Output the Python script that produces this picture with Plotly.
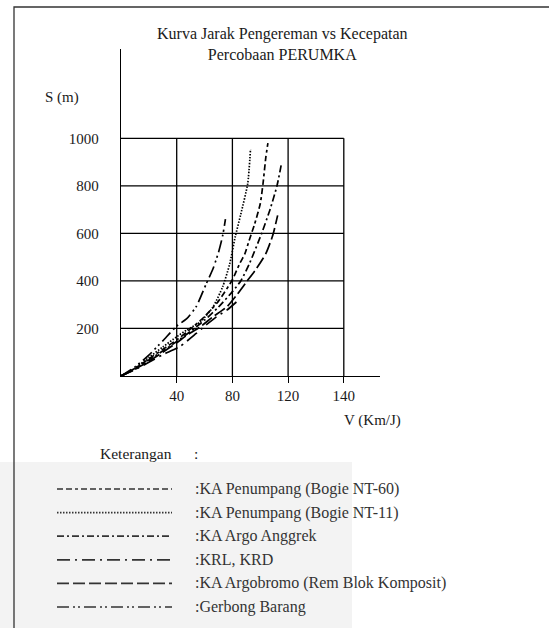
import plotly.graph_objects as go

# ---------------- data ----------------
V_NT60 = [0, 10, 20, 30, 40, 50, 60, 70, 80, 85, 89, 92, 96, 100, 102, 104, 105.5]
S_NT60 = [0, 32, 72, 112, 152, 198, 250, 315, 405, 470, 515, 570, 640, 725, 810, 920, 980]

V_NT11 = [0, 10, 20, 30, 40, 47, 57, 66, 73, 78, 82, 86, 91, 93]
S_NT11 = [0, 33, 78, 122, 165, 193, 228, 290, 375, 470, 585, 680, 810, 955]

V_ARGO_ANGGREK = [0, 10, 20, 30, 40, 50, 60, 70, 80, 86, 92, 101, 107, 112, 115]
S_ARGO_ANGGREK = [0, 30, 68, 105, 145, 188, 235, 290, 355, 400, 470, 600, 700, 800, 886]

V_KRL = [0, 10, 20, 30, 42, 54, 61, 68.5, 76, 83]
S_KRL = [0, 26, 58, 90, 123, 179, 214, 249, 277, 312]

V_ARGOBROMO = [0, 10, 20, 30, 40, 47, 57, 66, 76, 83, 90, 97, 104, 109, 112.5]
S_ARGOBROMO = [0, 28, 62, 100, 140, 170, 207, 249, 291, 340, 395, 450, 515, 592, 676]

V_BARANG = [0, 10, 20, 30, 40, 47, 54, 61, 66, 70, 73, 75]
S_BARANG = [0, 38, 88, 148, 210, 240, 292, 385, 450, 520, 590, 660]

X_TICK_VALS = [40, 80, 120, 160]
X_TICK_TEXT = ["40", "80", "120", "140"]
Y_TICK_VALS = [200, 400, 600, 800, 1000]
Y_TICK_TEXT = ["200", "400", "600", "800", "1000"]

SERIES_NAMES = [
    ":KA Penumpang (Bogie NT-60)",
    ":KA Penumpang (Bogie NT-11)",
    ":KA Argo Anggrek",
    ":KRL, KRD",
    ":KA Argobromo (Rem Blok Komposit)",
    ":Gerbong Barang",
]
SERIES_X = [V_NT60, V_NT11, V_ARGO_ANGGREK, V_KRL, V_ARGOBROMO, V_BARANG]
SERIES_Y = [S_NT60, S_NT11, S_ARGO_ANGGREK, S_KRL, S_ARGOBROMO, S_BARANG]

TITLE = "Kurva Jarak Pengereman vs Kecepatan<br>Percobaan PERUMKA"
Y_LABEL = "S (m)"
X_LABEL = "V (Km/J)"
LEGEND_TITLE = "Keterangan"

# ---------------- styles ----------------
DASHES = [
    "6px,3px,6px,3px,3px,3px",
    "1.5px,1.5px",
    "7px,3px,2px,3px",
    "13px,5px,2px,5px",
    "12px,4px",
    "12px,4px,2px,3px,2px,4px",
]
FONT = "Liberation Serif, Times New Roman, DejaVu Serif, serif"
TXT = "#1a1a1a"

W, H = 549, 628
L, R, T, B = 121, 380, 49, 376  # plot area in pixels


def px(xp):
    return (xp - L) / (R - L)


def py(yp):
    return (B - yp) / (B - T)


fig = go.Figure()

for xs, ys, d in zip(SERIES_X, SERIES_Y, DASHES):
    fig.add_trace(go.Scatter(
        x=xs, y=ys, mode="lines",
        line=dict(color="black", width=1.7, dash=d, shape="spline", smoothing=0.6),
        showlegend=False, hoverinfo="skip",
    ))

shapes = []
shapes.append(dict(type="rect", xref="paper", yref="paper",
                   x0=px(0), x1=px(352), y0=py(462), y1=py(640),
                   fillcolor="#f3f3f3", line=dict(width=0), layer="below"))
shapes.append(dict(type="rect", xref="paper", yref="paper",
                   x0=px(14), x1=px(620), y0=py(7), y1=py(700),
                   line=dict(color="#333333", width=1.3), layer="below"))
for v in X_TICK_VALS:
    shapes.append(dict(type="line", xref="x", yref="y", x0=v, x1=v,
                       y0=0, y1=max(Y_TICK_VALS),
                       line=dict(color="black", width=1.3)))
for h in Y_TICK_VALS:
    shapes.append(dict(type="line", xref="x", yref="y", x0=0, x1=max(X_TICK_VALS),
                       y0=h, y1=h, line=dict(color="black", width=1.3)))

annotations = []
def label(text, x, y, anchor="center", size=15, color=TXT):
    annotations.append(dict(text=text, xref="paper", yref="paper", x=px(x), y=py(y),
                            showarrow=False, xanchor=anchor, yanchor="middle",
                            font=dict(family=FONT, size=size, color=color)))

label(TITLE, 282, 43.5, size=16)
label(Y_LABEL, 62, 97)
label(X_LABEL, 372, 420)
label(LEGEND_TITLE, 136, 453, size=15.5)
label(":", 196, 453, size=15.5)

row_y0, row_step = 489, 23.6
for i, (name, d) in enumerate(zip(SERIES_NAMES, DASHES)):
    yy = row_y0 + i * row_step
    shapes.append(dict(type="line", xref="paper", yref="paper",
                       x0=px(57), x1=px(172), y0=py(yy), y1=py(yy),
                       line=dict(color="#333333", width=1.7, dash=d)))
    label(name, 193, yy, anchor="left", size=16, color="#333333")

fig.update_layout(
    width=W, height=H,
    margin=dict(l=L, r=W - R, t=T, b=H - B, pad=0),
    paper_bgcolor="white", plot_bgcolor="rgba(0,0,0,0)",
    showlegend=False,
    shapes=shapes, annotations=annotations,
    xaxis=dict(range=[0, 186], showline=True, linecolor="black", linewidth=1.3,
               showgrid=False, zeroline=False,
               tickmode="array", tickvals=X_TICK_VALS, ticktext=X_TICK_TEXT,
               ticks="outside", ticklen=6, tickcolor="black", tickwidth=1.3,
               tickfont=dict(family=FONT, size=15, color=TXT), fixedrange=True),
    yaxis=dict(range=[0, 1376], showline=True, linecolor="black", linewidth=1.3,
               showgrid=False, zeroline=False,
               tickmode="array", tickvals=Y_TICK_VALS, ticktext=Y_TICK_TEXT,
               ticks="", ticklabelstandoff=18,
               tickfont=dict(family=FONT, size=15, color=TXT), fixedrange=True),
)

fig.write_html("out.html", config=dict(displayModeBar=False),
               post_script="document.body.style.margin='0';")
